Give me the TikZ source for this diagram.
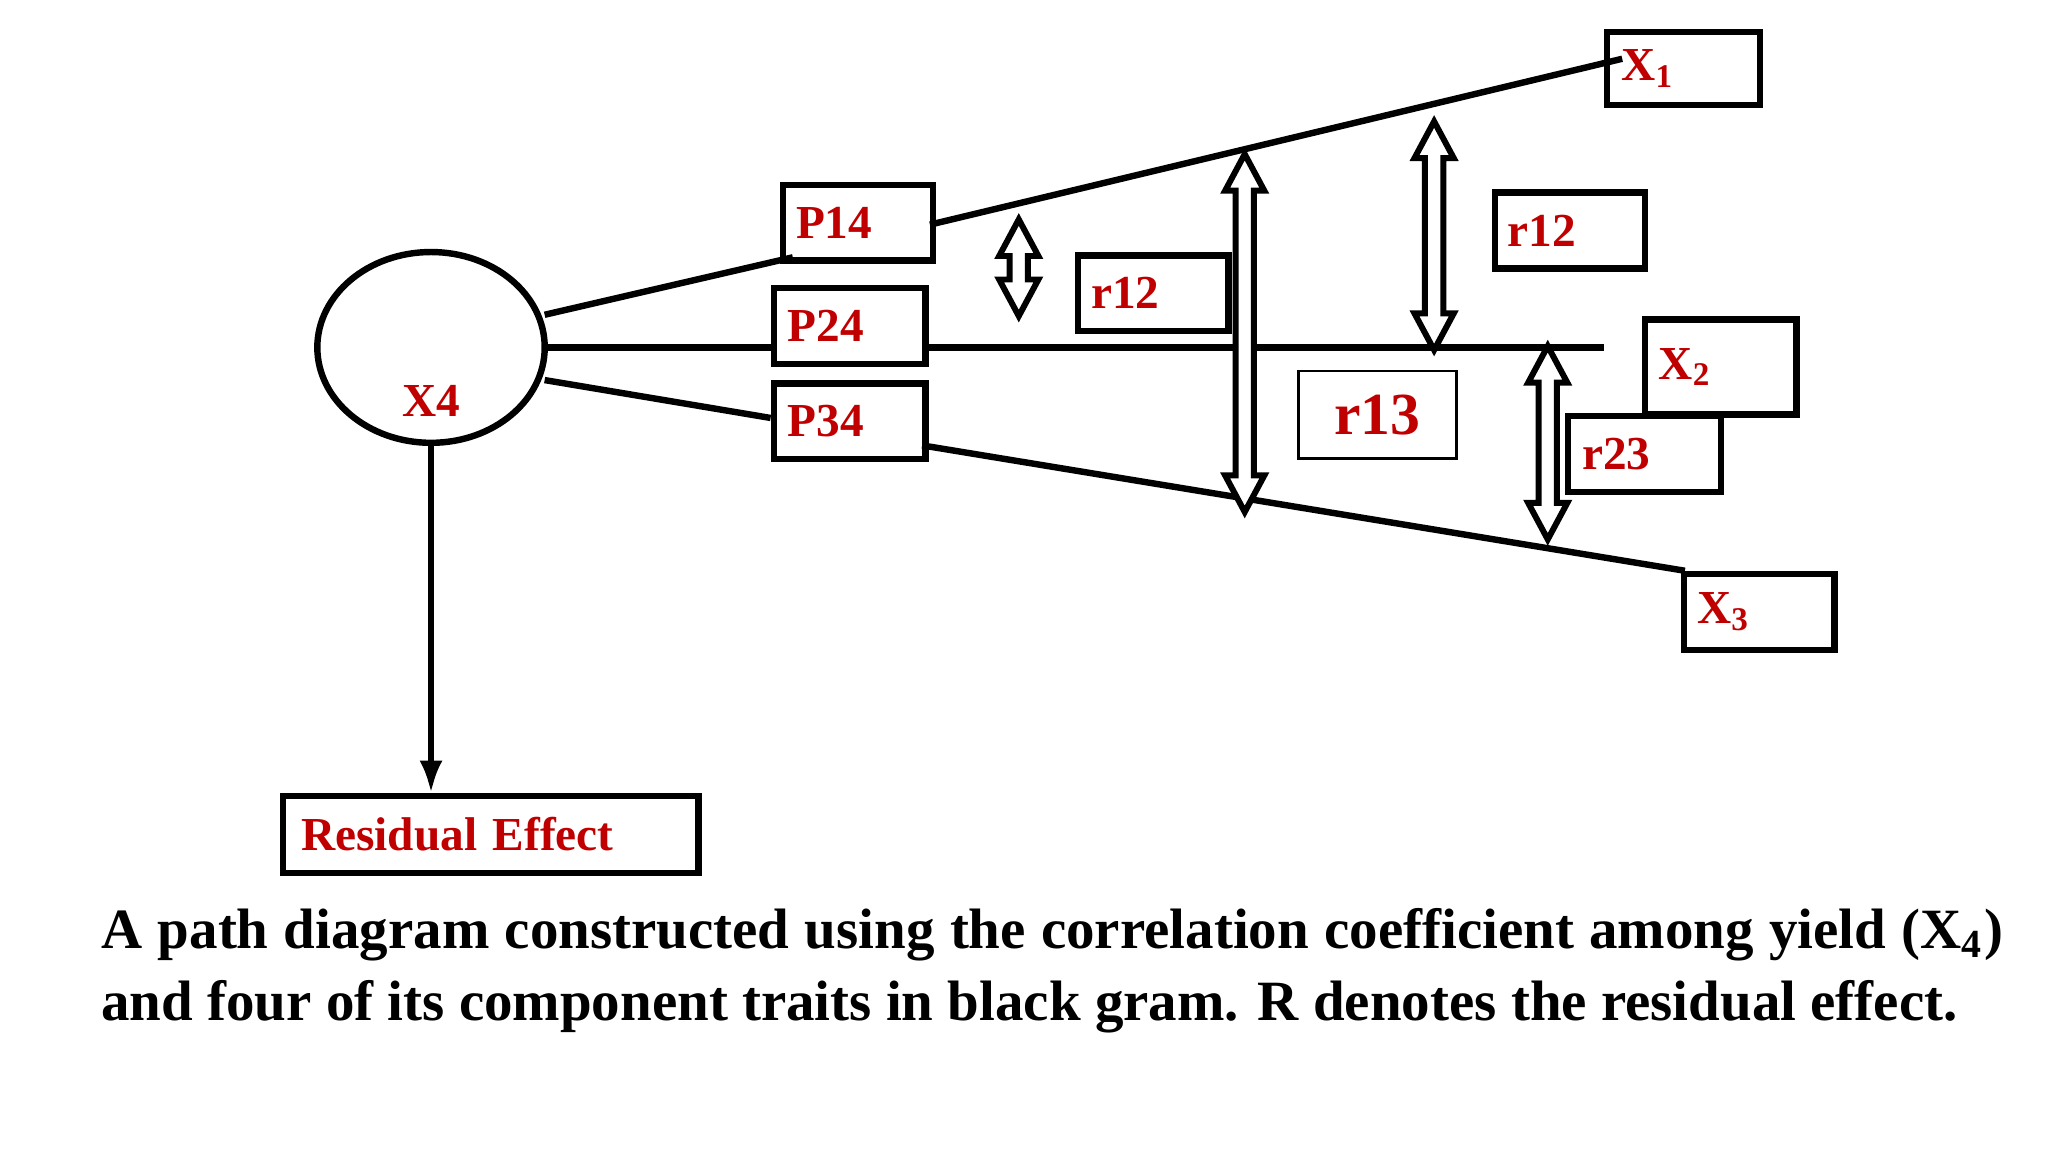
\documentclass[tikz,border=0pt]{standalone}
\usepackage{fontspec}
\setmainfont{Liberation Serif}
\usetikzlibrary{arrows.meta,shapes.geometric}
\definecolor{lred}{RGB}{192,0,0}
\begin{document}
\begin{tikzpicture}[x=0.01cm,y=-0.01cm,
  box/.style={draw,line width=1.4pt,anchor=north west,inner sep=0pt,text=lred,font=\fontsize{10.3}{12}\selectfont\bfseries},
  ln/.style={line width=1.4pt},
  harrow/.style={draw,line width=1.3pt,fill=white}]
\useasboundingbox (0,0) rectangle (1568,882);
\newcommand\hdarr[3]{\draw[harrow] (#1-7,#2+28) -- (#1-15,#2+28) -- (#1,#2) -- (#1+15,#2+28) -- (#1+7,#2+28) -- (#1+7,#3-28) -- (#1+15,#3-28) -- (#1,#3) -- (#1-15,#3-28) -- (#1-7,#3-28) -- cycle;}
\node[draw,ellipse,line width=1.4pt,minimum width=1.74cm,minimum height=1.46cm,inner sep=0pt] (x4) at (330,266) {};
\node[text=lred,font=\fontsize{10.3}{12}\selectfont\bfseries] (x4l) at (330,307) {X4};
\node[box,minimum width=1.15cm,minimum height=0.58cm,text width=1.05cm] (p14) at (597,139) {\hspace*{0.05cm}P14};
\node[box,minimum width=1.16cm,minimum height=0.58cm,text width=1.05cm] (p24) at (590,218) {\hspace*{0.05cm}P24};
\node[box,minimum width=1.16cm,minimum height=0.58cm,text width=1.05cm] (p34) at (590,291) {\hspace*{0.05cm}P34};
\node[box,minimum width=1.17cm,minimum height=0.56cm,text width=1.05cm] (x1) at (1228,22) {\hspace*{0.05cm}X\textsubscript{1}};
\node[box,minimum width=1.16cm,minimum height=0.73cm,text width=1.05cm] (x2) at (1257,242) {\hspace*{0.05cm}X\textsubscript{2}};
\node[box,minimum width=1.15cm,minimum height=0.58cm,text width=1.05cm] (x3) at (1287,437) {\hspace*{0.05cm}X\textsubscript{3}};
\node[box,minimum width=1.15cm,minimum height=0.58cm,text width=1.05cm] (r12a) at (823,193) {\hspace*{0.05cm}r12};
\node[box,minimum width=1.15cm,minimum height=0.58cm,text width=1.05cm] (r12b) at (1142,145) {\hspace*{0.05cm}r12};
\node[box,minimum width=1.17cm,minimum height=0.58cm,text width=1.05cm] (r23) at (1198,316) {\hspace*{0.05cm}r23};
\node[box,line width=0.6pt,minimum width=1.21cm,minimum height=0.67cm,font=\fontsize{13}{15}\selectfont\bfseries] (r13) at (993,283) {r13};
\node[box,minimum width=3.18cm,minimum height=0.59cm,text width=3.0cm] (res) at (214,607) {\hspace*{0.05cm}Residual Effect};
\coordinate (e1) at (417,241); \coordinate (e2) at (417,266); \coordinate (e3) at (417,291);
\coordinate (x2e) at (1228,266);
\coordinate (rt) at (330,607);
\draw[ln] (e1) -- (607,197);
\draw[ln] (712,172) -- (1242,45);
\draw[ln] (e2) -- (p24.west |- e2);
\draw[ln] (p24.east |- e2) -- (x2e);
\draw[ln] (e3) -- (590,320);
\draw[ln] (706,341) -- (1290,437);
\draw[line width=1.2pt,-{Latex[length=7pt,width=5pt]}] (330,339) -- (rt);
\hdarr{780}{168}{242}
\hdarr{953}{118}{392}
\hdarr{1098}{93}{268}
\hdarr{1185}{265}{413}
\node[anchor=north west,inner sep=0pt,text width=14.55cm,align=justify,font=\fontsize{12.4}{15.6}\selectfont\bfseries] (cap) at (77,695) {A path diagram constructed using the correlation coefficient among yield (X\textsubscript{4}) and four of its component traits in black gram. R denotes the residual effect.};
\end{tikzpicture}
\end{document}
